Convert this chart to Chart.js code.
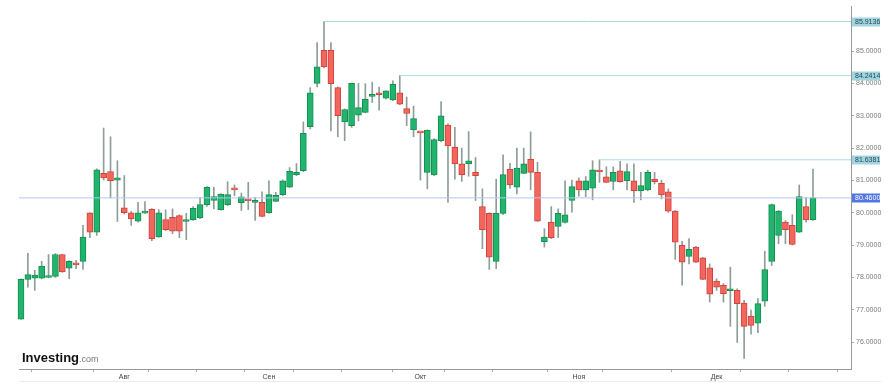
<!DOCTYPE html>
<html>
<head>
<meta charset="utf-8">
<script src="https://cdn.jsdelivr.net/npm/chart.js@4.4.1/dist/chart.umd.min.js"></script>
<style>
  html, body { margin: 0; padding: 0; background: #fff; }
  #wrap { width: 893px; height: 391px; position: relative; }
</style>
</head>
<body>
<div id="wrap"><canvas id="c"></canvas></div>
<script>
// ---- Data ----
const opens = [
 76.71,77.94,77.98,77.98,78.00,78.03,78.71,78.29,78.41,78.50,
 80.00,79.40,81.22,81.27,81.01,80.15,80.00,79.74,79.99,80.11,
 79.25,79.79,79.86,79.91,79.73,79.79,79.84,80.25,80.38,80.10,
 80.25,80.73,80.31,80.39,80.32,80.32,80.00,80.35,80.56,80.79,
 81.17,81.30,82.66,84.00,85.02,85.02,83.87,82.81,82.69,83.02,
 83.10,83.60,83.67,83.54,83.49,83.71,83.22,82.56,82.49,81.25,
 81.17,82.23,82.71,82.02,81.51,81.51,81.25,80.19,79.98,78.50,
 79.98,81.35,80.79,81.22,81.65,81.25,79.11,79.71,79.58,79.70,
 80.38,80.99,80.71,80.76,81.28,81.11,80.97,81.30,80.99,80.99,
 80.68,80.71,81.04,80.91,80.65,80.05,78.99,78.65,78.94,78.61,
 78.30,77.89,77.76,77.59,77.60,77.21,76.81,76.59,77.27,78.50,
 79.30,79.71,79.61,79.40,80.19,79.79
];
const highs = [
 77.96,78.75,78.22,78.50,78.71,78.74,78.72,78.52,78.53,79.61,
 80.00,81.36,82.62,82.35,81.61,81.15,80.04,80.32,80.35,80.13,
 80.10,80.09,80.12,79.94,79.98,80.19,80.48,80.81,80.79,80.59,
 80.96,80.86,80.61,80.94,80.48,80.65,80.99,80.63,81.02,81.40,
 81.52,82.81,83.87,85.26,85.9136,85.26,83.89,83.21,84.01,84.00,
 83.99,84.04,83.89,83.77,84.08,84.2414,83.58,83.30,82.49,82.56,
 82.29,83.44,82.75,82.64,82.00,82.51,81.71,80.74,80.00,81.04,
 81.79,81.53,82.00,82.00,82.50,81.56,79.51,80.19,80.12,80.99,
 81.01,81.08,81.12,81.61,81.6381,81.42,81.42,81.59,81.51,81.51,
 81.25,81.32,81.25,81.01,80.74,80.07,79.12,79.20,78.96,78.62,
 78.42,77.96,77.81,78.32,77.65,77.29,76.99,77.35,78.81,80.27,
 80.07,79.76,79.94,80.86,80.48,81.35
];
const lows = [
 76.70,77.70,77.60,77.96,77.99,78.00,78.16,77.96,78.27,78.25,
 79.23,79.30,81.01,80.46,79.73,79.96,79.61,79.71,79.98,79.14,
 79.24,79.45,79.35,79.23,79.17,79.76,79.82,80.20,80.12,80.08,
 80.22,80.53,80.07,80.10,79.76,79.88,79.98,80.35,80.53,80.78,
 81.15,81.27,82.59,83.89,84.48,82.53,82.35,82.23,82.64,82.84,
 83.09,83.41,83.17,83.52,83.47,83.34,82.69,82.35,81.01,80.74,
 81.15,82.19,80.32,81.04,80.97,81.13,80.38,78.89,78.25,78.27,
 79.94,80.75,80.58,81.21,80.71,79.73,78.94,79.20,79.23,79.68,
 80.02,80.51,80.50,80.40,80.94,80.93,80.71,80.95,80.71,80.32,
 80.40,80.68,80.89,80.43,80.01,78.56,77.76,78.42,78.46,77.93,
 77.24,77.60,77.24,76.49,75.99,75.50,76.25,76.29,77.11,78.37,
 79.04,79.04,79.00,79.39,79.71,79.76
];
const closes = [
 77.94,78.09,78.07,78.35,78.06,78.71,78.17,78.50,78.39,79.25,
 79.40,81.33,81.08,80.99,81.08,80.00,79.81,80.00,80.01,79.20,
 80.00,79.48,79.43,79.43,79.76,80.14,80.25,80.79,80.50,80.58,
 80.56,80.71,80.49,80.37,80.34,79.89,80.56,80.54,80.99,81.28,
 81.25,82.46,83.71,84.51,84.51,83.99,83.00,83.19,84.00,83.25,
 83.51,83.62,83.65,83.77,83.97,83.36,83.07,82.91,82.47,82.56,
 82.26,83.00,82.07,81.51,81.18,81.61,81.15,79.48,78.63,79.98,
 81.18,80.86,81.38,81.51,81.25,79.74,79.25,79.23,79.98,79.94,
 80.81,80.71,80.99,81.33,81.26,80.94,81.25,80.96,81.27,80.68,
 80.84,81.25,80.96,80.55,80.05,79.09,78.47,78.87,78.47,77.94,
 77.48,77.70,77.50,77.61,77.19,76.49,76.52,77.19,78.24,80.25,
 80.05,79.48,79.02,80.50,79.78,80.46
];
const levelValues = [85.9136, 84.2414, 81.6381];
const levelStarts = [44, 55, 84];
const lastPrice = 80.46;
const yTickValues = [76, 77, 78, 79, 80, 81, 82, 83, 84, 85];
const monthTickIdx = [15, 36, 58, 81, 101];
const monthLabels = ['Авг', 'Сен', 'Окт', 'Ноя', 'Дек'];
const weekTickIdx = [6, 22, 29, 43, 50, 65, 72, 88, 108, 115];

// ---- Build datasets ----
const X_MIN = -0.29, X_MAX = 120.52;
const idx = opens.map((_, i) => i);
const GREEN = '#22b46f', GREEN_B = '#11904f';
const RED = '#f3665d', RED_B = '#d1423b';
const up = idx.map(i => closes[i] >= opens[i]);

const datasets = [];
datasets.push({
  type: 'bar', label: 'wick',
  data: idx.map(i => ({ x: i, y: [lows[i], highs[i]] })),
  backgroundColor: '#8e9d98', borderWidth: 0,
  barThickness: 1, grouped: false, order: 3, clip: false
});
datasets.push({
  type: 'bar', label: 'body',
  data: idx.map(i => ({ x: i, y: [opens[i], closes[i]] })),
  backgroundColor: idx.map(i => up[i] ? GREEN : RED),
  borderColor: idx.map(i => up[i] ? GREEN_B : RED_B),
  borderWidth: 1, borderSkipped: false, minBarLength: 2,
  barThickness: 6, grouped: false, order: 2, clip: false
});
levelValues.forEach((v, k) => {
  datasets.push({
    type: 'line', label: 'lvl' + k,
    data: [{ x: levelStarts[k], y: v }, { x: X_MAX, y: v }],
    borderColor: '#abdde7', borderWidth: 1, pointRadius: 0, order: 1
  });
});
datasets.push({
  type: 'line', label: 'last',
  data: [{ x: X_MIN, y: lastPrice }, { x: X_MAX, y: lastPrice }],
  borderColor: '#b6c7ec', borderWidth: 1, pointRadius: 0, order: 1
});

const extras = {
  id: 'extras',
  afterDraw(chart) {
    const ctx = chart.ctx, ys = chart.scales.y, ca = chart.chartArea;
    ctx.save();
    // faint separator below axis
    ctx.fillStyle = '#ececec';
    ctx.fillRect(19, 381, 862, 1);
    // price boxes
    ctx.font = '7px "Liberation Sans", Arial, sans-serif';
    ctx.textBaseline = 'middle';
    ctx.textAlign = 'left';
    levelValues.forEach(v => {
      const y = Math.round(ys.getPixelForValue(v));
      ctx.fillStyle = '#9fd4e1';
      ctx.fillRect(ca.right + 1, y - 4.5, 28, 9);
      ctx.fillStyle = '#2e4650';
      ctx.fillText(v.toFixed(4), ca.right + 4, y + 0.5);
    });
    const yl = Math.round(ys.getPixelForValue(lastPrice));
    ctx.fillStyle = '#5276e2';
    ctx.fillRect(ca.right + 1, yl - 4.5, 28, 9);
    ctx.fillStyle = '#ffffff';
    ctx.fillText(lastPrice.toFixed(4), ca.right + 4, yl + 0.5);
    // logo
    ctx.textBaseline = 'alphabetic';
    ctx.fillStyle = '#111';
    ctx.font = 'bold 13px "Liberation Sans", Arial, sans-serif';
    ctx.fillText('Investing', 22, 362);
    const w = ctx.measureText('Investing').width;
    ctx.fillStyle = '#777';
    ctx.font = '9px "Liberation Sans", Arial, sans-serif';
    ctx.fillText('.com', 22 + w, 362);
    ctx.restore();
  }
};

Chart.defaults.font.family = '"Liberation Sans", Arial, sans-serif';

new Chart(document.getElementById('c'), {
  type: 'bar',
  data: { datasets },
  options: {
    responsive: true, maintainAspectRatio: false, animation: false,
    layout: { padding: { left: 19, top: 5, right: 0, bottom: 0 } },
    plugins: { legend: { display: false }, tooltip: { enabled: false } },
    scales: {
      x: {
        type: 'linear', min: X_MIN, max: X_MAX, offset: false,
        afterBuildTicks(scale) {
          const all = monthTickIdx.concat(weekTickIdx).sort((a, b) => a - b);
          scale.ticks = all.map(v => ({ value: v }));
        },
        afterFit(scale) { scale.height = 22; },
        ticks: {
          autoSkip: false, maxRotation: 0, padding: 1,
          font: { size: 7 }, color: '#444',
          callback(v) {
            const k = monthTickIdx.indexOf(v);
            return k >= 0 ? monthLabels[k] : '';
          }
        },
        grid: { drawOnChartArea: false, tickLength: 3, color: '#aaa' },
        border: { display: true, color: '#999' }
      },
      y: {
        type: 'linear', position: 'right', min: 75.17, max: 86.387,
        afterBuildTicks(scale) { scale.ticks = yTickValues.map(v => ({ value: v })); },
        afterFit(scale) { scale.width = 42; },
        ticks: {
          padding: 2, font: { size: 7 }, color: '#7a7a7a',
          callback(v) { return Number(v).toFixed(4); }
        },
        grid: { drawOnChartArea: false, tickLength: 3, color: '#aaa' },
        border: { display: true, color: '#999' }
      }
    }
  },
  plugins: [extras]
});
</script>
</body>
</html>
